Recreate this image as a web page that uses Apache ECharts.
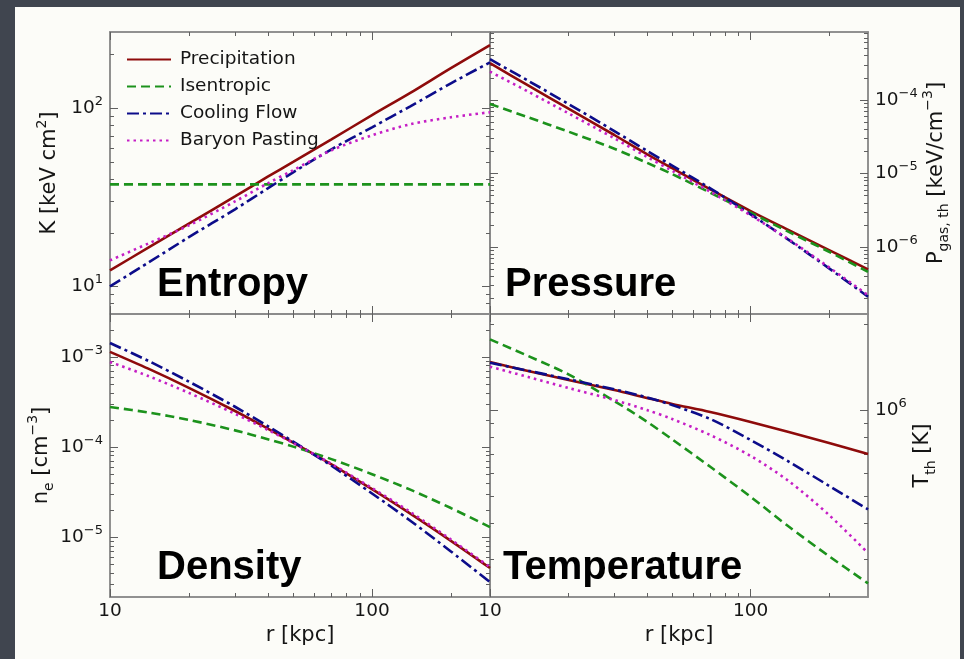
<!DOCTYPE html>
<html>
<head>
<meta charset="utf-8">
<script src="https://cdn.jsdelivr.net/npm/echarts@6/dist/echarts.min.js"></script>
<style>
html,body{margin:0;padding:0;background:#40454f;}
#c{width:964px;height:659px;}
</style>
</head>
<body>
<div id="c"></div>
<script>
// ---------------- data ----------------
const seriesNames = ['Precipitation', 'Isentropic', 'Cooling Flow', 'Baryon Pasting'];
const radius = [10, 14, 20, 30, 40, 50, 70, 100, 140, 200, 282];

const entropyPrecip = [12.3, 16.5, 22.5, 32.0, 41.3, 50.0, 66.9, 91.5, 122, 168, 226];
const entropyIsen   = [37.4, 37.4, 37.4, 37.4, 37.4, 37.4, 37.4, 37.4, 37.4, 37.4, 37.4];
const entropyCool   = [10.0, 13.6, 18.9, 27.1, 35.5, 43.7, 58.8, 78.2, 102.6, 138, 181];
const entropyBary   = [14.0, 17.4, 22.0, 30.0, 37.9, 44.9, 58.1, 70.5, 81.3, 89.0, 95.0];

const pressurePrecip = [3.16e-4, 1.58e-4, 7.6e-5, 3.34e-5, 1.84e-5, 1.18e-5, 6.1e-6, 3.09e-6, 1.70e-6, 9.1e-7, 4.98e-7];
const pressureIsen   = [8.83e-5, 5.82e-5, 3.71e-5, 2.17e-5, 1.40e-5, 9.84e-6, 5.48e-6, 2.93e-6, 1.61e-6, 8.63e-7, 4.61e-7];
const pressureCool   = [3.58e-4, 1.83e-4, 8.83e-5, 3.78e-5, 2.04e-5, 1.28e-5, 6.29e-6, 2.79e-6, 1.25e-6, 5.13e-7, 2.11e-7];
const pressureBary   = [2.43e-4, 1.30e-4, 6.59e-5, 3.01e-5, 1.69e-5, 1.09e-5, 5.65e-6, 2.70e-6, 1.27e-6, 5.30e-7, 2.22e-7];

const densityPrecip = [1.14e-3, 7.41e-4, 4.54e-4, 2.51e-4, 1.60e-4, 1.12e-4, 6.43e-5, 3.40e-5, 1.82e-5, 9.08e-6, 4.53e-6];
const densityIsen   = [2.78e-4, 2.42e-4, 2.00e-4, 1.53e-4, 1.22e-4, 1.01e-4, 7.34e-5, 4.99e-5, 3.36e-5, 2.10e-5, 1.29e-5];
const densityCool   = [1.43e-3, 9.05e-4, 5.32e-4, 2.80e-4, 1.71e-4, 1.15e-4, 6.19e-5, 3.05e-5, 1.52e-5, 6.93e-6, 3.16e-6];
const densityBary   = [8.80e-4, 6.14e-4, 3.99e-4, 2.34e-4, 1.55e-4, 1.11e-4, 6.49e-5, 3.50e-5, 1.90e-5, 9.4e-6, 4.64e-6];

const tempPrecip = [1.474e6, 1.370e6, 1.274e6, 1.175e6, 1.102e6, 1.050e6, 9.84e5, 9.08e5, 8.37e5, 7.66e5, 7.01e5];
const tempIsen   = [1.770e6, 1.547e6, 1.334e6, 1.075e6, 9.10e5, 7.89e5, 6.32e5, 4.96e5, 3.90e5, 3.07e5, 2.465e5];
const tempCool   = [1.465e6, 1.374e6, 1.282e6, 1.182e6, 1.108e6, 1.041e6, 9.30e5, 7.85e5, 6.59e5, 5.42e5, 4.48e5];
const tempBary   = [1.419e6, 1.306e6, 1.195e6, 1.084e6, 1.000e6, 9.30e5, 8.17e5, 6.90e5, 5.63e5, 4.28e5, 3.15e5];

// axis ranges and ticks
const rRange = [10, 282];
const rMajor = [10, 100];
const rMinor = [20, 30, 40, 50, 60, 70, 80, 90, 200];
const rTickLabels = ['10', '100'];

const entropyRange = [7, 268];
const entropyMajor = [10, 100];
const entropyMinor = [8, 9, 20, 30, 40, 50, 60, 70, 80, 90, 200];

const pressureRange = [1.23e-7, 8.4e-4];
const pressureMajor = [1e-6, 1e-5, 1e-4];
const pressureMinor = [2e-7, 3e-7, 4e-7, 5e-7, 6e-7, 7e-7, 8e-7, 9e-7,
  2e-6, 3e-6, 4e-6, 5e-6, 6e-6, 7e-6, 8e-6, 9e-6,
  2e-5, 3e-5, 4e-5, 5e-5, 6e-5, 7e-5, 8e-5, 9e-5,
  2e-4, 3e-4, 4e-4, 5e-4, 6e-4, 7e-4, 8e-4];

const densityRange = [2.16e-6, 3.0e-3];
const densityMajor = [1e-5, 1e-4, 1e-3];
const densityMinor = [3e-6, 4e-6, 5e-6, 6e-6, 7e-6, 8e-6, 9e-6,
  2e-5, 3e-5, 4e-5, 5e-5, 6e-5, 7e-5, 8e-5, 9e-5,
  2e-4, 3e-4, 4e-4, 5e-4, 6e-4, 7e-4, 8e-4, 9e-4, 2e-3];

const tempRange = [2.208e5, 2.172e6];
const tempMajor = [1e6];
const tempMinor = [3e5, 4e5, 5e5, 6e5, 7e5, 8e5, 9e5, 2e6];

const panelTitles = ['Entropy', 'Pressure', 'Density', 'Temperature'];

// ---------------- styling ----------------
const colors = ['#8e0b0b', '#1c921c', '#0c0c8a', '#c51ec5'];
const lineTypes = ['solid', [9, 5], [12, 4, 3, 4], [2.5, 4]];
const frameColor = '#8a8a8a';
const tickColor = '#606060';
const FONT = 'DejaVu Sans';

const gridBoxes = [
  {left: 110, top: 32, width: 380, height: 282},
  {left: 490, top: 32, width: 378, height: 282},
  {left: 110, top: 314, width: 380, height: 283},
  {left: 490, top: 314, width: 378, height: 283}
];

const richPow = {
  b: {fontSize: 18.5, fontFamily: FONT, color: '#151515', lineHeight: 26},
  s: {fontSize: 13, fontFamily: FONT, color: '#151515', lineHeight: 14, verticalAlign: 'top'}
};
const richName = {
  b: {fontSize: 21, fontFamily: FONT, color: '#151515', lineHeight: 30},
  sup: {fontSize: 14, fontFamily: FONT, color: '#151515', lineHeight: 16, verticalAlign: 'top'},
  sub: {fontSize: 14, fontFamily: FONT, color: '#151515', lineHeight: 16, verticalAlign: 'bottom'}
};

function powLabel(v) {
  const e = Math.round(Math.log10(v));
  const s = e < 0 ? '\u2212' + (-e) : String(e);
  return '{b|10}{s|' + s + '}';
}

function baseAxis(gi, range, position, ticks, len) {
  return {
    type: 'log', logBase: 10, gridIndex: gi, min: range[0], max: range[1], position: position,
    axisLine: {show: true, onZero: false, lineStyle: {color: frameColor, width: 1.5}},
    axisTick: {show: true, inside: true, length: len, customValues: ticks, lineStyle: {color: tickColor, width: 1}},
    axisLabel: {show: false},
    splitLine: {show: false},
    minorTick: {show: false},
    minorSplitLine: {show: false},
    axisPointer: {show: false}
  };
}

const panels = [
  {yRange: entropyRange, yMajor: entropyMajor, yMinor: entropyMinor, ySide: 'left',
   yName: '{b|K [keV cm}{sup|2}{b|]}', nameGap: 45, xLabels: false,
   data: [entropyPrecip, entropyIsen, entropyCool, entropyBary]},
  {yRange: pressureRange, yMajor: pressureMajor, yMinor: pressureMinor, ySide: 'right',
   yName: '{b|P}{sub|gas, th}{b| [keV/cm}{sup|\u22123}{b|]}', nameGap: 49, xLabels: false,
   data: [pressurePrecip, pressureIsen, pressureCool, pressureBary]},
  {yRange: densityRange, yMajor: densityMajor, yMinor: densityMinor, ySide: 'left',
   yName: '{b|n}{sub|e}{b| [cm}{sup|\u22123}{b|]}', nameGap: 45, xLabels: true,
   data: [densityPrecip, densityIsen, densityCool, densityBary]},
  {yRange: tempRange, yMajor: tempMajor, yMinor: tempMinor, ySide: 'right',
   yName: '{b|T}{sub|th}{b| [K]}', nameGap: 40, xLabels: true,
   data: [tempPrecip, tempIsen, tempCool, tempBary]}
];

const xAxes = [], yAxes = [], series = [];
panels.forEach(function (p, g) {
  const xMain = baseAxis(g, rRange, 'bottom', rMajor, 8);
  if (p.xLabels) {
    xMain.axisLabel = {
      show: true, customValues: rMajor, margin: 5,
      formatter: function (v) { return rTickLabels[rMajor.indexOf(v)] || String(v); },
      fontSize: 18.5, fontFamily: FONT, color: '#151515'
    };
    xMain.name = 'r [kpc]';
    xMain.nameLocation = 'middle';
    xMain.nameGap = 28;
    xMain.nameTextStyle = {fontSize: 21, fontFamily: FONT, color: '#151515'};
  }
  xAxes.push(xMain,
    baseAxis(g, rRange, 'bottom', rMinor, 4),
    baseAxis(g, rRange, 'top', rMajor, 8),
    baseAxis(g, rRange, 'top', rMinor, 4));

  const other = p.ySide === 'left' ? 'right' : 'left';
  const yMain = baseAxis(g, p.yRange, p.ySide, p.yMajor, 8);
  yMain.axisLabel = {
    show: true, customValues: p.yMajor, margin: 7,
    formatter: powLabel, rich: richPow
  };
  yMain.name = p.yName;
  yMain.nameLocation = 'middle';
  yMain.nameRotate = 90;
  yMain.nameGap = p.nameGap;
  yMain.nameTextStyle = {rich: richName};
  yAxes.push(yMain,
    baseAxis(g, p.yRange, p.ySide, p.yMinor, 4),
    baseAxis(g, p.yRange, other, p.yMajor, 8),
    baseAxis(g, p.yRange, other, p.yMinor, 4));

  p.data.forEach(function (vals, k) {
    series.push({
      type: 'line', name: seriesNames[k],
      xAxisIndex: 4 * g, yAxisIndex: 4 * g,
      data: radius.map(function (r, i) { return [r, vals[i]]; }),
      symbol: 'none', smooth: 0.3, clip: true,
      lineStyle: {color: colors[k], width: 2.6, type: lineTypes[k], cap: 'butt'},
      itemStyle: {color: colors[k]},
      z: 3 + k
    });
  });
});

const titleGraphics = panelTitles.map(function (t, i) {
  const pos = [[157, 285], [505, 285], [157, 568], [503, 568]][i];
  return {
    type: 'text', z: 100,
    style: {text: t, x: pos[0], y: pos[1], fill: '#000',
      font: 'bold 40px "Liberation Sans", Arial, sans-serif',
      align: 'left', verticalAlign: 'middle'}
  };
});

const chart = echarts.init(document.getElementById('c'), null, {renderer: 'canvas'});
chart.setOption({
  animation: false,
  backgroundColor: '#40454f',
  grid: gridBoxes.map(function (b) { return Object.assign({containLabel: false}, b); }),
  xAxis: xAxes,
  yAxis: yAxes,
  legend: {
    data: seriesNames,
    orient: 'vertical', left: 121, top: 45,
    itemWidth: 44, itemHeight: 14, itemGap: 8,
    itemStyle: {opacity: 0},
    textStyle: {fontSize: 18.5, fontFamily: FONT, color: '#151515', padding: [0, 0, 0, 4]},
    selectedMode: false
  },
  graphic: [
    {type: 'rect', z: -100, silent: true,
     shape: {x: 15, y: 7, width: 945, height: 652},
     style: {fill: '#fcfcf8'}}
  ].concat(titleGraphics),
  series: series
});
</script>
</body>
</html>
